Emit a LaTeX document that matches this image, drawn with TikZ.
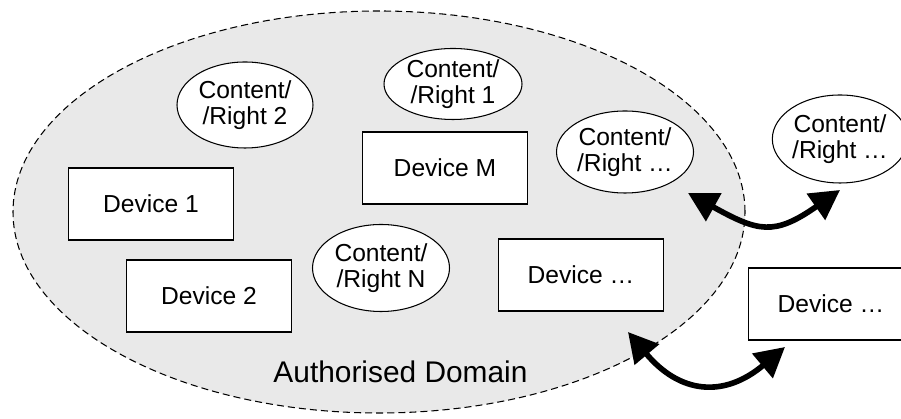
\documentclass[tikz,border=0pt]{standalone}
\usepackage{fontspec}
\setmainfont{Liberation Sans}
\usepackage{xcolor}
\definecolor{domainFill}{RGB}{233,233,233}
\usetikzlibrary{arrows.meta, shapes.geometric}
\tikzset{
  device/.style={draw, fill=white, line width=0.6pt, minimum width=3.3cm, minimum height=1.44cm, inner sep=0pt,
    font=\fontsize{14}{14.7}\selectfont},
  content/.style={draw, ellipse, fill=white, line width=0.6pt, inner sep=0pt, align=center,
    font=\fontsize{14}{14.7}\selectfont},
  link/.style={line width=3.2pt, {Triangle[length=5.9mm,width=6.2mm]}-{Triangle[length=5.9mm,width=6.2mm]}}
}

\begin{document}
\begin{tikzpicture}
\useasboundingbox (0,0) rectangle (18.02,8.38);
\clip (0,0) rectangle (18.02,8.38);
% the domain
\draw[fill=domainFill, line width=0.6pt, dash pattern=on 4pt off 2.3pt] (7.58,4.14) ellipse [x radius=7.32cm, y radius=4.02cm];
\node[anchor=base, font=\fontsize{17}{20}\selectfont] (dom) at (8.01,0.72) {Authorised Domain};

% devices
\node[device] (dev1) at (3.02,4.30) {Device 1};
\node[device] (dev2) at (4.18,2.46) {Device 2};
\node[device] (devM) at (8.90,5.02) {Device M};
\node[device] (devX) at (11.62,2.88) {Device …};
\node[device] (devOut) at (16.62,2.30) {Device …};

% contents / rights
\node[content, minimum width=2.72cm, minimum height=1.72cm] (cr2) at (4.90,6.28) {Content/\\/Right 2};
\node[content, minimum width=2.76cm, minimum height=1.42cm] (cr1) at (9.06,6.70) {Content/\\/Right 1};
\node[content, minimum width=2.74cm, minimum height=1.64cm] (crX) at (12.50,5.34) {Content/\\/Right …};
\node[content, minimum width=2.74cm, minimum height=1.74cm] (crN) at (7.62,3.02) {Content/\\/Right N};
\node[content, minimum width=2.70cm, minimum height=1.76cm] (crOut) at (16.80,5.60) {Content/\\/Right …};

% links across the border
\coordinate (inA) at (13.76,4.52);
\coordinate (outA) at (16.80,4.58);
\coordinate (inB) at (12.56,1.74);
\coordinate (outB) at (15.70,1.44);
\draw[link] (inA) to[out=-29, in=215, looseness=1.35] (outA);
\draw[link] (inB) to[out=-50, in=220, looseness=1.3] (outB);
\end{tikzpicture}
\end{document}
